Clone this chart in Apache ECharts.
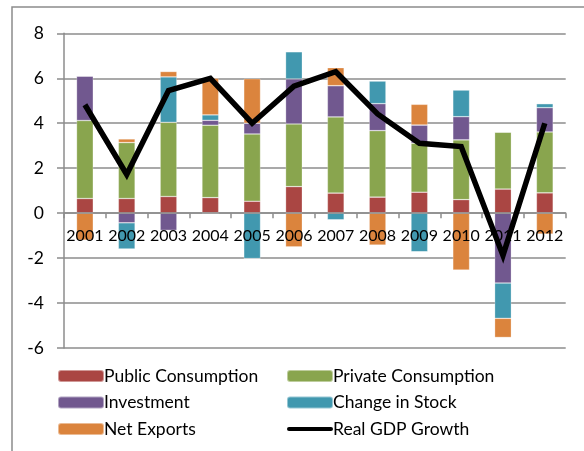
<!DOCTYPE html>
<html>
<head>
<meta charset="utf-8">
<script src="https://cdn.jsdelivr.net/npm/echarts@6/dist/echarts.min.js"></script>
<style>html,body{margin:0;padding:0;background:#fff}#c{width:584px;height:451px}</style>
</head>
<body>
<div id="c"></div>
<script>
const years = ['2001','2002','2003','2004','2005','2006','2007','2008','2009','2010','2011','2012'];
const yTicks = [-6, -4, -2, 0, 2, 4, 6, 8];
// positive parts
const publicCons   = [0.65, 0.65, 0.74, 0.69, 0.53, 1.18, 0.89, 0.71, 0.93, 0.60, 1.07, 0.90];
const privateCons  = [3.47, 2.49, 3.30, 3.22, 2.99, 2.79, 3.39, 2.96, 2.18, 2.66, 2.54, 2.71];
const investPos    = [1.98, 0, 0, 0.22, 0.48, 2.00, 1.39, 1.20, 0.81, 1.03, 0, 1.08];
const stockPos     = [0, 0, 2.02, 0.24, 0, 1.21, 0, 1.01, 0, 1.19, 0, 0.18];
const exportsPos   = [0, 0.16, 0.24, 1.63, 1.98, 0, 0.80, 0, 0.92, 0, 0, 0];
// negative parts
const investNeg    = [0, -0.43, -0.77, 0, 0, 0, 0, 0, 0, 0, -3.11, 0];
const stockNeg     = [0, -1.17, 0, 0, -2.02, 0, -0.30, 0, -1.72, 0, -1.57, 0];
const exportsNeg   = [-1.20, 0, 0, 0, 0, -1.50, 0, -1.42, 0, -2.53, -0.85, -0.93];
const gdpGrowth    = [4.82, 1.72, 5.45, 6.00, 4.00, 5.65, 6.29, 4.41, 3.11, 2.96, -1.88, 4.00];

const C = {pub:'#AA4643', priv:'#89A54E', inv:'#71588F', stock:'#4198AF', exp:'#DB843D'};
const font = 'Lato, "Open Sans", sans-serif';

function bar(name, data, color, stack) {
  return {name, type:'bar', stack, data, barWidth:'40%', barGap:'-100%',
    itemStyle:{color, borderColor:'rgba(255,255,255,0.45)', borderWidth:0.6}, emphasis:{disabled:true}, z:2};
}

const gridTop = 33.3, gridBottom = 103, H = 451;
const plotH = H - gridTop - gridBottom;
const zeroOffset = -plotH * (0 - yTicks[0]) / (yTicks[yTicks.length-1] - yTicks[0]);

const chart = echarts.init(document.getElementById('c'), null, {renderer:'canvas'});
chart.setOption({
  animation:false,
  backgroundColor:'#fff',
  graphic:[{type:'rect', shape:{x:12, y:7, width:700, height:600}, style:{fill:'none', stroke:'#8c8c8c', lineWidth:1.5}, silent:true, z:-1}],
  grid:{left:64, right:18.3, top:gridTop, bottom:gridBottom, containLabel:false},
  legend:[
    {left:52, top:361, orient:'vertical', itemWidth:46, itemHeight:12, itemGap:6.5,
     textStyle:{fontFamily:font, fontSize:17.5, color:'#000', lineHeight:20, padding:[0,0,0,-5]},
     data:['Public Consumption','Investment','Net Exports'], selectedMode:false},
    {left:281, top:361, orient:'vertical', itemWidth:46, itemHeight:12, itemGap:6.5,
     textStyle:{fontFamily:font, fontSize:17.5, color:'#000', lineHeight:20, padding:[0,0,0,-5]},
     data:['Private Consumption','Change in Stock',
       {name:'Real GDP Growth', icon:'path://M0,0 M2,4 L44,4 A2,2 0 0 1 44,8 L2,8 A2,2 0 0 1 2,4 Z M46,12', itemStyle:{color:'#000'}}],
     selectedMode:false}
  ],
  xAxis:{type:'category', data:years, z:10, offset:zeroOffset,
    axisLine:{onZero:false, lineStyle:{color:'#8c8c8c', width:1.5}},
    axisTick:{show:true, alignWithLabel:false, length:5, lineStyle:{color:'#8c8c8c', width:1.5}},
    axisLabel:{fontFamily:font, fontSize:16, color:'#000', margin:15, interval:0}
  },
  yAxis:{type:'value', min:yTicks[0], max:yTicks[yTicks.length-1], interval:2,
    axisLine:{show:true, lineStyle:{color:'#8c8c8c', width:1.5}},
    axisTick:{show:true, length:7, lineStyle:{color:'#8c8c8c', width:1.5}},
    axisLabel:{fontFamily:font, fontSize:17.5, color:'#000', margin:20},
    splitLine:{show:true, lineStyle:{color:'#8c8c8c', width:1.5}}
  },
  series:[
    bar('Public Consumption', publicCons, C.pub, 'pos'),
    bar('Private Consumption', privateCons, C.priv, 'pos'),
    bar('Investment', investPos, C.inv, 'pos'),
    bar('Change in Stock', stockPos, C.stock, 'pos'),
    bar('Net Exports', exportsPos, C.exp, 'pos'),
    bar('Investment', investNeg, C.inv, 'neg'),
    bar('Change in Stock', stockNeg, C.stock, 'neg'),
    bar('Net Exports', exportsNeg, C.exp, 'neg'),
    {name:'Real GDP Growth', type:'line', data:gdpGrowth, symbol:'none', z:20,
     lineStyle:{color:'#000', width:5.5, join:'miter'}, itemStyle:{color:'#000'}}
  ]
});
</script>
</body>
</html>
